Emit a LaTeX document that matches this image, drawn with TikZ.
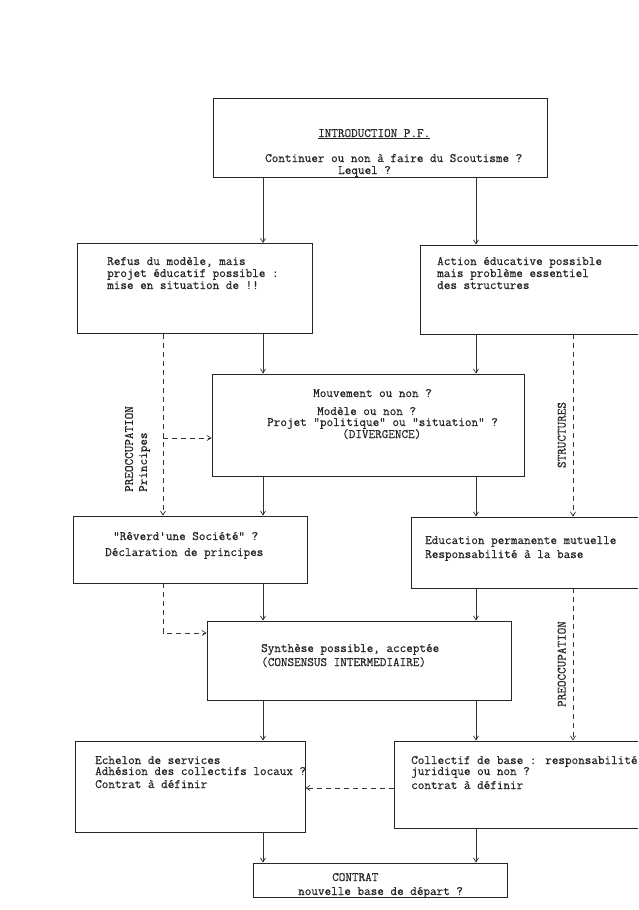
\documentclass[tikz,border=0pt]{standalone}
\usepackage{fontspec}
\newfontfamily\twfont{Latin Modern Mono}[FakeBold=0.5]
\usetikzlibrary{arrows.meta}
\begin{document}
\begin{tikzpicture}[x=1pt,y=-1pt,
  box/.style={draw=black!85,line width=0.9pt,rectangle,inner sep=0pt},
  txt/.style={font=\fontsize{12.8}{16}\selectfont\twfont,inner sep=0pt,anchor=base west,text=black!85},
  rtxt/.style={font=\fontsize{12.8}{14}\selectfont\twfont,inner sep=0pt,rotate=90,anchor=south,align=center,text=black!85},
  arr/.style={draw=black!80,line width=0.7pt,-{Straight Barb[length=4pt,width=5pt]}},
  darr/.style={arr,dash pattern=on 5pt off 4pt},
  ]
\useasboundingbox (0,0) rectangle (638,910);
\fill[white] (0,0) rectangle (638,910);
\clip (0,0) rectangle (638,910);

% column coordinates
\coordinate (cL) at (263,0);
\coordinate (cR) at (476,0);
\coordinate (dL) at (163,0);
\coordinate (dR) at (573,0);

% boxes
\node[box,minimum width=334pt,minimum height=79pt] (intro) at (380,137.5) {};
\node[box,minimum width=235pt,minimum height=90pt] (refus) at (194.5,288.5) {};
\node[box,minimum width=232pt,minimum height=89pt] (action) at (536,289.5) {};
\node[box,minimum width=312pt,minimum height=102pt] (mouv) at (368,425) {};
\node[box,minimum width=234pt,minimum height=67pt] (rever) at (190,549.5) {};
\node[box,minimum width=239pt,minimum height=71pt] (educ) at (530.5,552.5) {};
\node[box,minimum width=304pt,minimum height=79pt] (synth) at (359,660.5) {};
\node[box,minimum width=230pt,minimum height=91pt] (echel) at (190,786.5) {};
\node[box,minimum width=256pt,minimum height=87pt] (coll) at (522,784.5) {};
\node[box,minimum width=254pt,minimum height=34pt] (contrat) at (380,880) {};

% texts
\node[txt] (t1) at (318,137) {\underline{INTRODUCTION P.F.}};
\node[txt] (t2) at (265,162) {Continuer ou non à faire du Scoutisme ?};
\node[txt] (t3) at (338,174) {Lequel ?};

\node[txt] (r1) at (107,265) {Refus du modèle, mais};
\node[txt] (r2) at (107,277) {projet éducatif possible :};
\node[txt] (r3) at (107,289) {mise en situation de !!};

\node[txt] (a1) at (437,265) {Action éducative possible};
\node[txt] (a2) at (437,277) {mais problème essentiel};
\node[txt] (a3) at (437,289) {des structures};

\node[txt] (m1) at (313,397) {Mouvement ou non ?};
\node[txt] (m2) at (317,415) {Modèle ou non ?};
\node[txt] (m3) at (267,426) {Projet "politique" ou "situation" ?};
\node[txt] (m4) at (342,438) {(DIVERGENCE)};

\node[txt] (v1) at (113,540) {"Rêverd'une Société" ?};
\node[txt] (v2) at (105,556) {Déclaration de principes};

\node[txt] (e1) at (425,544) {Education permanente mutuelle};
\node[txt] (e2) at (425,558) {Responsabilité à la base};

\node[txt] (s1) at (261,652) {Synthèse possible, acceptée};
\node[txt] (s2) at (261,666) {(CONSENSUS INTERMEDIAIRE)};

\node[txt] (h1) at (95,764) {Echelon de services};
\node[txt] (h2) at (95,775) {Adhésion des collectifs locaux ?};
\node[txt] (h3) at (95,788) {Contrat à définir};

\node[txt] (c1) at (411,764) {Collectif de base : responsabilité};
\node[txt] (c2) at (411,775) {juridique ou non ?};
\node[txt] (c3) at (411,789) {contrat à définir};

\node[txt] (k1) at (332,881) {CONTRAT};
\node[txt] (k2) at (298,895) {nouvelle base de départ ?};

% rotated labels
\node[rtxt,align=left,anchor=south west] (lp) at (150,492) {PREOCCUPATION\\Principes};
\node[rtxt] (ls) at (566,435) {STRUCTURES};
\node[rtxt] (lq) at (566,664) {PREOCCUPATION};

% solid arrows
\draw[arr] (intro.south -| cL) -- (refus.north -| cL);
\draw[arr] (intro.south -| cR) -- (action.north -| cR);
\draw[arr] (refus.south -| cL) -- (mouv.north -| cL);
\draw[arr] (action.south -| cR) -- (mouv.north -| cR);
\draw[arr] (mouv.south -| cL) -- (rever.north -| cL);
\draw[arr] (mouv.south -| cR) -- (educ.north -| cR);
\draw[arr] (rever.south -| cL) -- (synth.north -| cL);
\draw[arr] (educ.south -| cR) -- (synth.north -| cR);
\draw[arr] (synth.south -| cL) -- (echel.north -| cL);
\draw[arr] (synth.south -| cR) -- (coll.north -| cR);
\draw[arr] (echel.south -| cL) -- (contrat.north -| cL);
\draw[arr] (coll.south -| cR) -- (contrat.north -| cR);

% dashed arrows
\coordinate (bL) at (163,438);
\coordinate (bL2) at (163,633);
\coordinate (bC) at (0,788);
\draw[darr] (refus.south -| dL) -- (rever.north -| dL);
\draw[darr] (bL) -- (mouv.west |- bL);
\draw[darr] (rever.south -| dL) -- (bL2) -- (synth.west |- bL2);
\draw[darr] (action.south -| dR) -- (educ.north -| dR);
\draw[darr] (educ.south -| dR) -- (coll.north -| dR);
\draw[darr] (coll.west |- bC) -- (echel.east |- bC);
\end{tikzpicture}
\end{document}
